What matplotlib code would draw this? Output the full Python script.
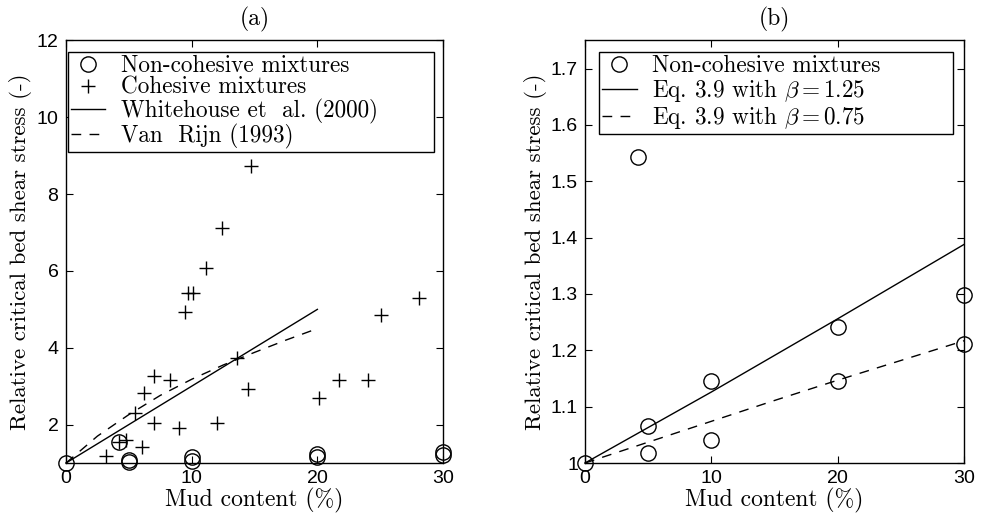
import matplotlib
matplotlib.use("Agg")
import matplotlib.pyplot as plt

plt.rcParams['font.family'] = ['cmr10', 'DejaVu Serif']
plt.rcParams['mathtext.fontset'] = 'cm'
plt.rcParams['axes.unicode_minus'] = False
plt.rcParams['axes.formatter.use_mathtext'] = True

# non-cohesive mixtures (same data in both panels)
nc_x = [0, 4.2, 5, 5, 10, 10, 20, 20, 30, 30]
nc_y = [1.0, 1.543, 1.066, 1.018, 1.146, 1.040, 1.241, 1.146, 1.298, 1.211]

# cohesive mixtures
coh_x = [3.2, 4.2, 4.8, 5.5, 6.05, 6.2, 7.0, 7.0, 8.3, 9.0, 9.5, 9.7, 10.1,
         11.1, 12.0, 12.4, 13.6, 14.5, 14.7, 20.1, 21.7, 24.0, 25.1, 28.1]
coh_y = [1.17, 1.55, 1.60, 2.30, 1.41, 2.83, 2.04, 3.26, 3.17, 1.91, 4.94, 5.43, 5.43,
         6.07, 2.03, 7.11, 3.74, 2.93, 8.74, 2.70, 3.16, 3.17, 4.85, 5.29]

# Whitehouse et al. (2000) and Van Rijn (1993)
wh_x = [0, 20]
wh_y = [1.0, 5.0]
vr_x = [0, 2.5, 5, 7.5, 10, 12.5, 15, 17.5, 20]
vr_y = [1.0, 1.70, 2.26, 2.76, 3.18, 3.55, 3.88, 4.20, 4.50]

# Eq. 3.9 curves
eq_x = [0, 5, 10, 15, 20, 25, 30]
eq125_y = [1.0, 1.063, 1.126, 1.191, 1.256, 1.322, 1.388]
eq075_y = [1.0, 1.037, 1.074, 1.111, 1.147, 1.182, 1.217]

fig = plt.figure(figsize=(9.82, 5.23), dpi=100)
ax1 = fig.add_axes([0.0672, 0.1147, 0.3840, 0.8079])
ax2 = fig.add_axes([0.5957, 0.1147, 0.3860, 0.8079])

ax1.plot(nc_x, nc_y, 'o', mfc='none', mec='k', ms=11, mew=1.0, label='Non-cohesive mixtures')
ax1.plot(coh_x, coh_y, '+', color='k', ms=9.5, mew=1.0, label='Cohesive mixtures')
ax1.plot(wh_x, wh_y, '-', color='k', lw=1.0, label='Whitehouse et  al. (2000)')
ax1.plot(vr_x, vr_y, '--', color='k', lw=1.0, dashes=(7, 6), label='Van  Rijn (1993)')
ax1.set_xlim(0, 30)
ax1.set_ylim(1, 12)
ax1.set_xticks([0, 10, 20, 30])
ax1.set_yticks([2, 4, 6, 8, 10, 12])
ax1.set_title('(a)', fontsize=17, pad=11)

ax2.plot(nc_x, nc_y, 'o', mfc='none', mec='k', ms=11, mew=1.0, label='Non-cohesive mixtures')
ax2.plot(eq_x, eq125_y, '-', color='k', lw=1.0, label=r'Eq. 3.9 with $\beta = 1.25$')
ax2.plot(eq_x, eq075_y, '--', color='k', lw=1.0, dashes=(7, 6), label=r'Eq. 3.9 with $\beta = 0.75$')
ax2.set_xlim(0, 30)
ax2.set_ylim(1, 1.75)
ax2.set_xticks([0, 10, 20, 30])
ax2.set_yticks([1, 1.1, 1.2, 1.3, 1.4, 1.5, 1.6, 1.7])
ax2.set_yticklabels(['1', '1.1', '1.2', '1.3', '1.4', '1.5', '1.6', '1.7'])
ax2.set_title('(b)', fontsize=17, pad=11)

leg_boxes = {ax1: (0.005, 0.0, 0.971, 0.973), ax2: (0.037, 0.0, 0.934, 0.973)}

for ax in (ax1, ax2):
    for m in ax.lines:
        m.set_clip_on(False)
    ax.set_xlabel('Mud content (%)', fontsize=17, labelpad=1)
    ax.set_ylabel('Relative critical bed shear stress (-)', fontsize=16.5, labelpad=3)
    ax.tick_params(direction='in', top=True, right=True, length=5, width=0.8, pad=5)
    for lbl in ax.get_xticklabels() + ax.get_yticklabels():
        lbl.set_fontfamily('Liberation Sans')
        lbl.set_fontsize(14)
    for s in ax.spines.values():
        s.set_linewidth(1.0)
    leg = ax.legend(loc='upper left', bbox_to_anchor=leg_boxes[ax], mode='expand',
                    borderaxespad=0, fancybox=False, edgecolor='k', framealpha=1,
                    fontsize=16.7, handlelength=1.5, handletextpad=0.65,
                    labelspacing=0.0, borderpad=0.12)
    leg.get_frame().set_linewidth(1.0)

fig.savefig('out.png', dpi=100)
